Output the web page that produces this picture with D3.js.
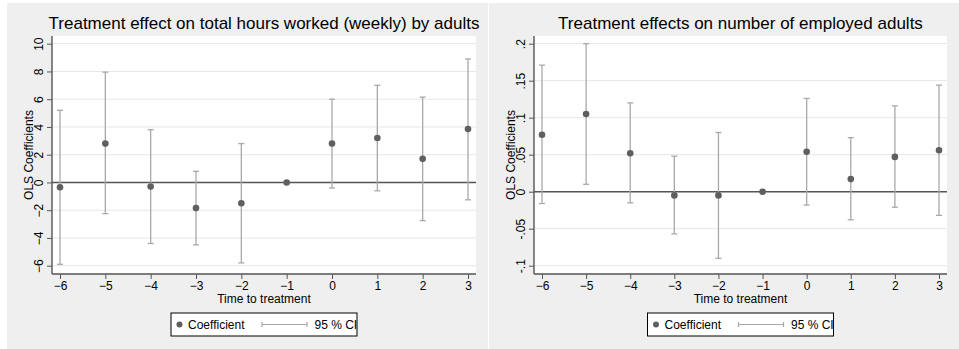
<!DOCTYPE html>
<html>
<head>
  <meta charset="utf-8">
  <script src="https://d3js.org/d3.v7.min.js"></script>
  <style>
    html, body { margin: 0; padding: 0; background: #fff; }
    svg { display: block; font-family: "Liberation Sans", Arial, sans-serif; }
  </style>
</head>
<body>
  <svg width="959" height="349"></svg>
  <script>
    // event time
    const periods = [-6, -5, -4, -3, -2, -1, 0, 1, 2, 3];

    // hours worked
    const hoursCoef = [-0.35, 2.8, -0.3, -1.85, -1.5, 0, 2.8, 3.2, 1.7, 3.85];
    const hoursLo = [-5.9, -2.25, -4.4, -4.5, -5.8, null, -0.4, -0.6, -2.75, -1.25];
    const hoursHi = [5.2, 7.95, 3.8, 0.8, 2.8, null, 6.0, 7.0, 6.15, 8.9];
    const hoursTicks = [-6, -4, -2, 0, 2, 4, 6, 8, 10];

    // employed adults
    const empCoef = [0.077, 0.105, 0.052, -0.005, -0.005, 0, 0.054, 0.017, 0.047, 0.056];
    const empLo = [-0.016, 0.01, -0.015, -0.057, -0.09, null, -0.018, -0.038, -0.021, -0.032];
    const empHi = [0.171, 0.2, 0.12, 0.048, 0.08, null, 0.126, 0.073, 0.116, 0.144];
    const empTicks = [-0.1, -0.05, 0, 0.05, 0.1, 0.15, 0.2];
    const empTickLabels = ["-.1", "-.05", "0", ".05", ".1", ".15", ".2"];

    const svg = d3.select("svg");
    const axisCol = "#555", ciCol = "#a9a9a9", dotCol = "#5f5f5f";

    function drawPanel(px, pw, title, coef, lo, hi, ticks, tickFmt) {
      const g = svg.append("g");
      g.append("rect").attr("x", px).attr("y", 3).attr("width", pw).attr("height", 346)
        .attr("fill", "#efefef");

      const left = px + 45, right = px + pw - 12, top = 36, bottom = 274;
      g.append("rect").attr("x", left).attr("y", top).attr("width", right - left)
        .attr("height", bottom - top).attr("fill", "#fff");

      const x = d3.scaleLinear().domain([-6, 3]).range([left + 8, right - 8]);
      const y = d3.scaleLinear().domain([ticks[0], ticks[ticks.length - 1]]).range([265.7, 43.7]);

      // gridlines
      g.selectAll(".grid").data(ticks).enter().append("line")
        .attr("x1", left).attr("x2", right)
        .attr("y1", d => y(d)).attr("y2", d => y(d))
        .attr("stroke", "#e7e7e7").attr("stroke-width", 1);

      // zero line
      g.append("line").attr("x1", left).attr("x2", right)
        .attr("y1", y(0)).attr("y2", y(0))
        .attr("stroke", axisCol).attr("stroke-width", 1.4);

      // y axis
      const yAx = g.append("g").attr("transform", `translate(${left},0)`)
        .call(d3.axisLeft(y).tickValues(ticks).tickSize(5).tickSizeOuter(0).tickFormat(tickFmt));
      yAx.select(".domain").attr("d", `M0,${top}V${bottom}`).attr("stroke", axisCol).attr("stroke-width", 1.4);
      yAx.selectAll(".tick line").attr("stroke", axisCol);
      yAx.selectAll(".tick text")
        .attr("x", 0).attr("dy", 0).attr("y", 0)
        .attr("transform", "translate(-9.5,0) rotate(-90)")
        .attr("text-anchor", "middle")
        .attr("font-size", 12).attr("fill", "#000")
        .attr("font-family", "Liberation Sans, Arial, sans-serif");

      // x axis
      const xAx = g.append("g").attr("transform", `translate(0,${bottom})`)
        .call(d3.axisBottom(x).tickValues(periods).tickSize(5).tickSizeOuter(0)
          .tickFormat(d => d < 0 ? "\u2212" + Math.abs(d) : d));
      xAx.select(".domain").attr("d", `M${left},0H${right}`).attr("stroke", axisCol).attr("stroke-width", 1.4);
      xAx.selectAll(".tick line").attr("stroke", axisCol);
      xAx.selectAll(".tick text").attr("y", 7).attr("font-size", 12).attr("fill", "#000")
        .attr("font-family", "Liberation Sans, Arial, sans-serif");

      // CIs
      const rows = periods.map((p, i) => ({ p, c: coef[i], lo: lo[i], hi: hi[i] }));
      const ci = rows.filter(r => r.lo !== null);
      g.selectAll(".ci").data(ci).enter().append("line")
        .attr("x1", d => x(d.p)).attr("x2", d => x(d.p))
        .attr("y1", d => y(d.lo)).attr("y2", d => y(d.hi))
        .attr("stroke", ciCol).attr("stroke-width", 1.3);
      ["lo", "hi"].forEach(k => {
        g.selectAll(".cap" + k).data(ci).enter().append("line")
          .attr("x1", d => x(d.p) - 3).attr("x2", d => x(d.p) + 3)
          .attr("y1", d => y(d[k])).attr("y2", d => y(d[k]))
          .attr("stroke", ciCol).attr("stroke-width", 1.3);
      });

      g.selectAll(".dot").data(rows).enter().append("circle")
        .attr("cx", d => x(d.p)).attr("cy", d => y(d.c)).attr("r", 3.3)
        .attr("fill", dotCol);

      // titles
      g.append("text").attr("x", (left + right) / 2).attr("y", 29)
        .attr("text-anchor", "middle").attr("font-size", 17).text(title);
      g.append("text").attr("x", (left + right) / 2).attr("y", 303)
        .attr("text-anchor", "middle").attr("font-size", 12).text("Time to treatment");
      g.append("text").attr("transform", `translate(${px + 25.5},${(top + bottom) / 2}) rotate(-90)`)
        .attr("text-anchor", "middle").attr("font-size", 12).text("OLS Coefficients");

      // legend
      const lx = (left + right) / 2 - 93, ly = 313;
      const lg = g.append("g").attr("transform", `translate(${lx},${ly})`);
      lg.append("rect").attr("width", 186).attr("height", 23)
        .attr("fill", "#fff").attr("stroke", "#000").attr("stroke-width", 1);
      lg.append("circle").attr("cx", 8.5).attr("cy", 11.5).attr("r", 3).attr("fill", dotCol);
      lg.append("text").attr("x", 17).attr("y", 16).attr("font-size", 12).text("Coefficient");
      lg.append("line").attr("x1", 91).attr("x2", 136).attr("y1", 11.5).attr("y2", 11.5)
        .attr("stroke", ciCol).attr("stroke-width", 1.2);
      [91, 136].forEach(cx => lg.append("line").attr("x1", cx).attr("x2", cx)
        .attr("y1", 9).attr("y2", 14).attr("stroke", ciCol).attr("stroke-width", 1.2));
      lg.append("text").attr("x", 143.5).attr("y", 16).attr("font-size", 12).text("95 % CI");
    }

    drawPanel(7, 481, "Treatment effect on total hours worked (weekly) by adults",
      hoursCoef, hoursLo, hoursHi, hoursTicks, d => d < 0 ? "\u2212" + Math.abs(d) : d);
    drawPanel(489, 470, "Treatment effects on number of employed adults",
      empCoef, empLo, empHi, empTicks, (d, i) => empTickLabels[i]);
  </script>
</body>
</html>
